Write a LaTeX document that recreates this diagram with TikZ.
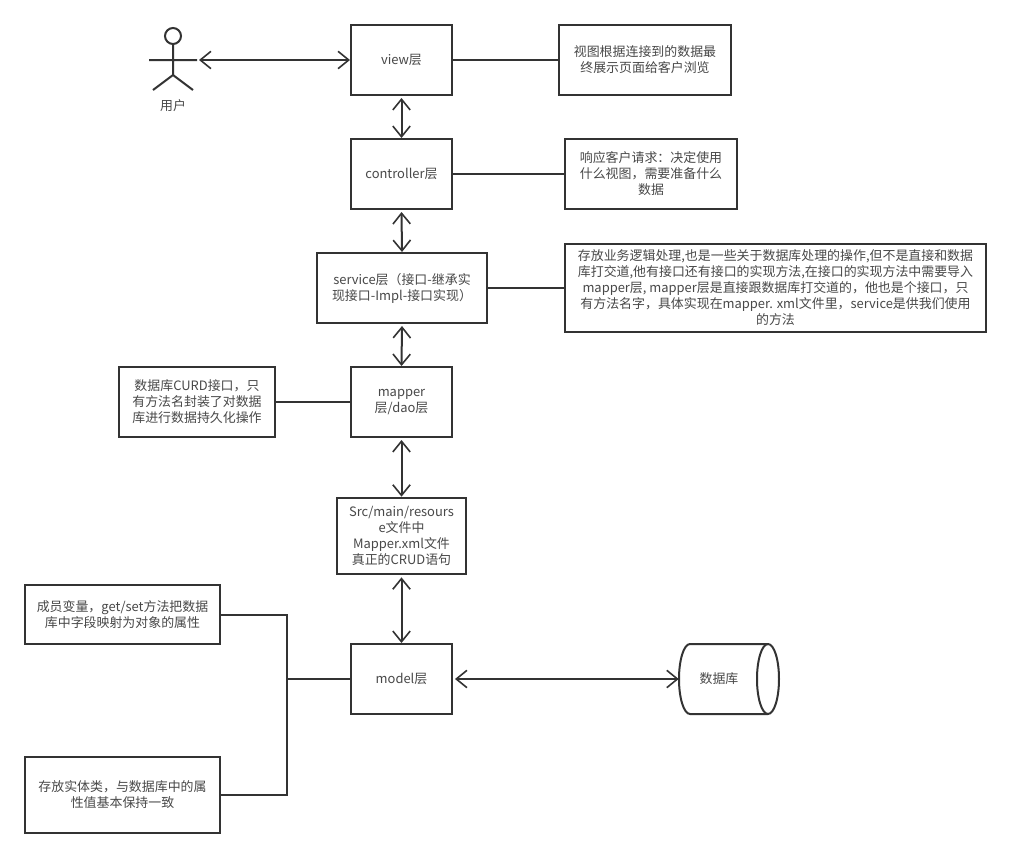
\documentclass[tikz,border=0pt]{standalone}
\usepackage{fontspec}
\setmainfont{Noto Sans CJK SC}
\usetikzlibrary{arrows.meta}
\definecolor{ink}{HTML}{333333}
\definecolor{txt}{HTML}{484848}
\tikzset{
  box/.style={draw=ink,line width=1.5pt,fill=white,align=center,text=txt,inner sep=0pt,font=\fontsize{9.7}{12}\selectfont},
  layerbox/.style={box,minimum width=75.75pt,minimum height=52.5pt},
  link/.style={draw=ink,line width=1.5pt},
  dbl/.style={link,{Straight Barb[length=8pt,width=13pt,line width=1.2pt]}-{Straight Barb[length=8pt,width=13pt,line width=1.2pt]}},
  plain/.style={text=txt,align=center,inner sep=0pt,font=\fontsize{9.7}{12}\selectfont}
}
\begin{document}
\begin{tikzpicture}[x=0.75pt,y=-0.75pt]
\useasboundingbox[fill=white] (0,0) rectangle (1011,857);
% layers
\node[layerbox] (view) at (401.5,60) {view层};
\node[layerbox] (ctrl) at (401.5,174) {controller层};
\node[box,minimum width=127.5pt,minimum height=52.5pt] (svc) at (402,288) {service层（接口-继承实\\现接口-Impl-接口实现）};
\node[layerbox] (map) at (401.5,402) {mapper\\层/dao层};
\node[box,minimum width=96.75pt,minimum height=57.5pt] (src) at (401.5,536) {Src/main/resours\\e文件中\\Mapper.xml文件\\真正的CRUD语句};
\node[layerbox] (model) at (401.5,679) {model层};
% notes
\node[box,minimum width=129pt,minimum height=52.5pt] (n1) at (645,60) {视图根据连接到的数据最\\终展示页面给客户浏览};
\node[box,minimum width=129pt,minimum height=52.5pt] (n2) at (651,174) {响应客户请求：决定使用\\什么视图，需要准备什么\\数据};
\node[box,minimum width=316pt,minimum height=66pt] (n3) at (775.5,288) {存放业务逻辑处理,也是一些关于数据库处理的操作,但不是直接和数据\\库打交道,他有接口还有接口的实现方法,在接口的实现方法中需要导入\\mapper层, mapper层是直接跟数据库打交道的，他也是个接口，只\\有方法名字，具体实现在mapper. xml文件里，service是供我们使用\\的方法};
\node[box,minimum width=117pt,minimum height=52.5pt] (n4) at (197,402) {数据库CURD接口，只\\有方法名封装了对数据\\库进行数据持久化操作};
\node[box,minimum width=146.25pt,minimum height=44.25pt] (n5) at (122.5,614.5) {成员变量，get/set方法把数据\\库中字段映射为对象的属性};
\node[box,minimum width=146.25pt,minimum height=57pt] (n6) at (122.5,795) {存放实体类，与数据库中的属\\性值基本保持一致};
% database
\node[plain,minimum width=75pt,minimum height=52.5pt] (db) at (729,679) {};
\draw[link,fill=white] (690,644) -- (768,644)
  .. controls (774.1,644) and (779,659.7) .. (779,679)
  .. controls (779,698.3) and (774.1,714) .. (768,714)
  -- (690,714)
  .. controls (683.9,714) and (679,698.3) .. (679,679)
  .. controls (679,659.7) and (683.9,644) .. (690,644) -- cycle;
\draw[link] (768,644)
  .. controls (761.9,644) and (757,659.7) .. (757,679)
  .. controls (757,698.3) and (761.9,714) .. (768,714);
\node[plain] at (719,679) {数据库};
% actor
\draw[link] (173,36) circle[radius=8];
\coordinate (head) at (173,44);
\coordinate (hip) at (173,75);
\coordinate (armL) at (149,60);
\coordinate (armR) at (197,60);
\coordinate (legL) at (153,90);
\coordinate (legR) at (193,90);
\coordinate (actorEnd) at (199,60);
\draw[link] (head) -- (hip) (armL) -- (armR) (legL) -- (hip) -- (legR);
\node[plain] (user) at (173,106) {用户};
% connectors
\draw[dbl] (actorEnd) -- (view.west);
\draw[dbl] ([yshift=-1.5pt]view.south) -- (ctrl.north);
\draw[dbl] ([yshift=-1.5pt]ctrl.south) -- (svc.north);
\draw[dbl] ([yshift=-1.5pt]svc.south) -- (map.north);
\draw[dbl] ([yshift=-1.5pt]map.south) -- (src.north);
\draw[dbl] ([yshift=-1.5pt]src.south) -- (model.north);
\draw[dbl] ([xshift=1.5pt]model.east) -- (db.west);
\draw[link] (view.east) -- (n1.west);
\draw[link] (ctrl.east) -- (n2.west);
\draw[link] (svc.east) -- (n3.west);
\draw[link] (n4.east) -- (map.west);
\coordinate (jn) at (287,679);
\draw[link] (n5.east) -| (jn);
\draw[link] (n6.east) -| (jn);
\draw[link] (jn) -- (model.west);
\end{tikzpicture}
\end{document}
